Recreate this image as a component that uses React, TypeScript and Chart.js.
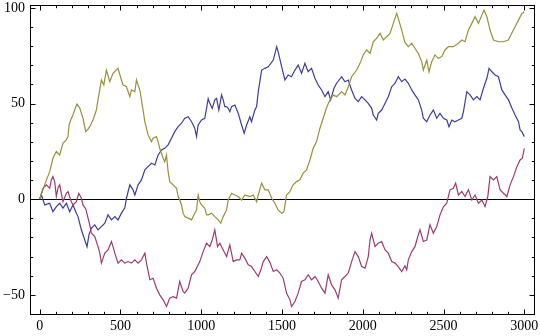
import React, { useEffect, useRef } from "react";
import { Chart, registerables } from "chart.js";

Chart.register(...registerables);

// Walk 1 (blue): [step, value]
const blueWalk: number[][] = [
  [0, 0], [11, 2.2], [31, -3.0], [62, -2.1], [82, -6.5], [103, -3.9], [124, -2.1], [144, -4.7], [165, -2.1], [186, -6.6],
  [206, -3.0], [227, -7.3], [237, -9.1], [258, -16.0], [279, -21.3], [293, -24.8], [305, -18.6], [320, -15.1], [341, -13.4], [361, -16.0],
  [382, -14.3], [403, -12.5], [423, -8.2], [444, -10.8], [465, -9.1], [485, -10.8], [506, -7.3], [527, -4.5], [537, 0.5], [558, 7.5],
  [578, 4.9], [589, 2.2], [609, 7.5], [630, 10.1], [651, 15.3], [671, 17.0], [692, 18.8], [713, 17.9], [733, 23.1], [754, 25.7],
  [774, 26.6], [795, 28.4], [816, 31.9], [836, 35.3], [857, 37.9], [878, 39.7], [898, 42.3], [919, 43.1], [940, 40.5], [960, 37.1],
  [971, 32.7], [981, 38.8], [1002, 41.4], [1022, 42.3], [1033, 47.5], [1043, 52.5], [1053, 50.1], [1068, 47.5], [1084, 51.9], [1095, 52.7],
  [1109, 46.6], [1126, 54.5], [1136, 51.9], [1146, 48.4], [1157, 48.4], [1167, 47.5], [1177, 45.7], [1188, 48.4], [1208, 49.2], [1229, 44.9],
  [1250, 38.8], [1266, 34.5], [1281, 38.8], [1301, 43.1], [1311, 40.5], [1332, 46.6], [1343, 48.4], [1353, 56.2], [1374, 67.5], [1394, 68.4],
  [1415, 69.2], [1446, 72.7], [1467, 79.7], [1476, 77.1], [1498, 69.2], [1518, 62.3], [1538, 64.9], [1559, 64.0], [1580, 67.5], [1600, 70.1],
  [1621, 65.8], [1642, 71.0], [1662, 66.6], [1683, 68.4], [1704, 63.2], [1724, 59.7], [1745, 57.1], [1766, 53.6], [1786, 56.2], [1801, 51.9],
  [1822, 58.0], [1838, 60.6], [1869, 64.0], [1890, 61.4], [1910, 62.3], [1931, 57.1], [1952, 52.7], [1972, 51.0], [1993, 53.6], [2014, 51.9],
  [2034, 50.1], [2055, 47.5], [2065, 44.0], [2086, 41.4], [2096, 44.9], [2117, 46.6], [2138, 50.1], [2158, 53.6], [2179, 58.8], [2200, 60.6],
  [2220, 64.0], [2241, 61.4], [2261, 62.8], [2282, 60.6], [2303, 57.1], [2323, 54.5], [2344, 51.9], [2365, 46.6], [2375, 42.3], [2396, 40.5],
  [2416, 44.0], [2437, 46.6], [2458, 42.3], [2478, 44.9], [2499, 42.3], [2520, 41.4], [2534, 37.9], [2551, 41.4], [2571, 40.5], [2592, 41.4],
  [2613, 42.3], [2623, 45.7], [2644, 56.2], [2664, 54.5], [2685, 51.9], [2706, 53.6], [2726, 51.9], [2747, 58.0], [2768, 63.2], [2782, 68.4],
  [2799, 66.6], [2819, 64.9], [2840, 64.0], [2861, 57.1], [2881, 54.5], [2902, 51.9], [2923, 47.7], [2943, 44.0], [2964, 40.5], [2974, 36.2],
  [2985, 35.3], [3000, 32.7],
];

// Walk 2 (magenta): [step, value]
const magentaWalk: number[][] = [
  [0, 0], [20, 5.7], [42, 7.5], [62, 5.7], [72, 10.1], [82, 11.8], [93, 9.2], [103, 1.4], [113, 5.7], [124, 7.5],
  [134, 3.1], [144, -1.3], [165, 3.1], [175, 4.0], [196, -1.3], [206, -3.0], [227, -1.3], [242, 3.1], [258, 0.5], [268, -3.0],
  [285, -5.1], [299, -9.8], [310, -13.4], [320, -17.8], [341, -19.5], [361, -24.8], [372, -28.2], [382, -33.4], [403, -28.2], [423, -26.5],
  [444, -22.1], [454, -24.8], [465, -28.2], [485, -33.4], [506, -31.7], [527, -33.4], [547, -32.6], [568, -33.4], [589, -31.7], [609, -33.4],
  [630, -31.7], [651, -28.2], [661, -33.4], [682, -42.1], [702, -41.3], [723, -46.5], [743, -50.0], [764, -52.6], [785, -56.1], [805, -51.7],
  [826, -50.9], [847, -51.7], [867, -43.0], [888, -48.3], [898, -49.1], [919, -46.5], [940, -39.5], [960, -37.8], [991, -32.6], [1012, -27.4],
  [1033, -23.0], [1053, -24.8], [1068, -21.3], [1084, -16.0], [1101, -24.8], [1115, -23.0], [1136, -26.5], [1157, -30.0], [1177, -23.9], [1198, -32.6],
  [1219, -31.7], [1239, -31.7], [1250, -28.2], [1270, -30.8], [1291, -34.3], [1311, -35.2], [1332, -37.8], [1353, -40.4], [1369, -36.9], [1384, -32.6],
  [1405, -30.0], [1425, -33.0], [1446, -37.8], [1467, -36.9], [1487, -38.6], [1507, -41.3], [1528, -49.1], [1549, -52.6], [1559, -56.1], [1580, -53.5],
  [1600, -49.1], [1621, -43.0], [1642, -42.1], [1662, -39.5], [1683, -42.1], [1704, -40.4], [1724, -43.0], [1745, -46.5], [1766, -49.1], [1786, -39.5],
  [1807, -44.8], [1828, -47.4], [1848, -51.7], [1869, -42.1], [1890, -40.4], [1910, -38.6], [1931, -32.6], [1952, -27.4], [1972, -30.0], [1993, -35.2],
  [2014, -36.0], [2034, -30.0], [2045, -21.3], [2055, -17.8], [2076, -24.8], [2096, -23.0], [2117, -22.1], [2138, -26.5], [2158, -28.2], [2179, -32.6],
  [2200, -33.4], [2220, -35.2], [2241, -37.8], [2261, -34.8], [2272, -36.9], [2282, -31.7], [2303, -27.4], [2323, -24.8], [2344, -18.6], [2354, -16.0],
  [2375, -22.1], [2396, -21.3], [2416, -13.4], [2437, -17.8], [2458, -14.3], [2478, -8.2], [2499, -4.0], [2520, -2.1], [2540, 4.9], [2561, 5.7],
  [2575, 8.4], [2592, 2.2], [2613, 4.0], [2633, 1.4], [2654, 4.9], [2675, -0.4], [2695, 2.2], [2716, -2.1], [2737, -0.4], [2757, -3.9],
  [2774, 1.4], [2788, 11.8], [2809, 10.1], [2830, 11.8], [2850, 4.9], [2871, 3.1], [2892, 1.4], [2912, 7.5], [2933, 11.8], [2954, 17.0],
  [2974, 20.5], [2988, 21.4], [3000, 26.6],
];

// Walk 3 (gold): [step, value]
const goldWalk: number[][] = [
  [0, 0], [20, 4.9], [42, 10.1], [62, 14.4], [82, 21.4], [103, 24.9], [124, 23.1], [144, 29.2], [165, 31.0], [175, 32.7],
  [182, 38.8], [192, 41.4], [206, 44.0], [220, 47.5], [231, 49.8], [248, 47.7], [268, 42.3], [285, 35.3], [296, 36.2], [310, 37.9],
  [330, 41.4], [351, 46.6], [361, 51.9], [382, 62.3], [397, 59.7], [413, 67.5], [434, 61.4], [454, 65.8], [485, 68.4], [500, 64.0],
  [516, 59.7], [537, 58.8], [558, 53.6], [568, 57.1], [589, 56.2], [599, 62.3], [609, 59.7], [620, 57.1], [630, 51.9], [640, 46.6],
  [651, 40.5], [671, 33.6], [692, 30.1], [702, 31.9], [723, 32.7], [733, 30.1], [743, 26.6], [764, 21.4], [774, 19.6], [785, 23.1],
  [795, 14.4], [805, 9.2], [826, 7.5], [847, 5.7], [857, 1.4], [867, -0.4], [878, -3.0], [888, -7.3], [898, -9.1], [919, -9.9],
  [940, -10.8], [960, -7.3], [971, -5.6], [981, 2.2], [991, -1.3], [1002, -3.0], [1022, -4.7], [1033, -8.2], [1043, -8.2], [1064, -7.3],
  [1084, -9.1], [1105, -10.8], [1121, -12.5], [1136, -9.1], [1157, -5.6], [1167, -0.4], [1188, 3.1], [1208, 2.2], [1229, 1.4], [1250, -0.4],
  [1270, 2.2], [1301, 1.4], [1322, 2.2], [1343, -1.3], [1353, 2.2], [1374, 8.4], [1394, 4.9], [1415, 4.9], [1436, 0.5], [1456, -2.1],
  [1476, -5.6], [1498, -7.3], [1512, -6.5], [1528, 2.2], [1549, 4.0], [1569, 7.5], [1590, 9.2], [1611, 10.1], [1631, 13.6], [1652, 15.3],
  [1673, 20.5], [1693, 26.6], [1714, 30.1], [1735, 37.1], [1755, 42.3], [1776, 47.9], [1797, 51.9], [1817, 54.5], [1838, 53.6], [1869, 56.2],
  [1890, 54.5], [1910, 58.8], [1931, 64.0], [1962, 67.5], [1983, 71.0], [2003, 75.4], [2024, 78.0], [2045, 76.2], [2065, 82.3], [2086, 84.1],
  [2107, 86.7], [2127, 83.2], [2148, 84.9], [2169, 86.7], [2189, 91.9], [2210, 97.1], [2220, 94.5], [2241, 88.4], [2261, 81.9], [2282, 79.7],
  [2303, 81.5], [2323, 78.9], [2344, 76.2], [2365, 71.9], [2375, 67.5], [2396, 72.7], [2410, 66.6], [2427, 71.9], [2447, 75.4], [2468, 73.6],
  [2489, 74.5], [2509, 78.0], [2530, 79.7], [2561, 79.7], [2592, 81.5], [2613, 83.2], [2633, 82.3], [2654, 88.4], [2675, 91.9], [2695, 95.4],
  [2716, 91.9], [2737, 96.2], [2751, 98.9], [2768, 95.4], [2788, 88.4], [2809, 83.2], [2840, 82.3], [2871, 82.3], [2901, 83.2], [2922, 86.7],
  [2943, 90.1], [2964, 93.6], [2985, 97.1], [3000, 98.0],
];

const xTickValues = [0, 500, 1000, 1500, 2000, 2500, 3000];
const yTickValues = [-50, 0, 50, 100];
const xMinorStep = 100;
const yMinorStep = 10;

const X_MIN = -60;
const X_MAX = 3060;
const Y_MIN = -60;
const Y_MAX = 101.5;

const FONT = { family: "'Liberation Serif', 'Times New Roman', serif", size: 14 };

const framePlugin = {
  id: "mmaFrame",
  beforeDatasetsDraw(chart: any) {
    const { ctx, chartArea, scales } = chart;
    const y0 = Math.round(scales.y.getPixelForValue(0)) + 0.5;
    ctx.save();
    ctx.strokeStyle = "#000";
    ctx.lineWidth = 1;
    ctx.beginPath();
    ctx.moveTo(chartArea.left, y0);
    ctx.lineTo(chartArea.right, y0);
    ctx.stroke();
    ctx.restore();
  },
  afterDraw(chart: any) {
    const { ctx, chartArea, scales } = chart;
    const L = Math.floor(chartArea.left) + 0.5;
    const R = Math.floor(chartArea.right) + 0.5;
    const T = Math.floor(chartArea.top) + 0.5;
    const B = Math.floor(chartArea.bottom) + 0.5;
    ctx.save();
    ctx.strokeStyle = "#000";
    ctx.lineWidth = 1;
    ctx.strokeRect(L, T, R - L, B - T);
    ctx.beginPath();
    const majorLen = 5;
    const minorLen = 2.7;
    for (let v = Math.ceil(X_MIN / xMinorStep) * xMinorStep; v <= X_MAX; v += xMinorStep) {
      if (v <= X_MIN || v >= X_MAX) continue;
      const px = Math.round(scales.x.getPixelForValue(v)) + 0.5;
      const len = xTickValues.includes(v) ? majorLen : minorLen;
      ctx.moveTo(px, B);
      ctx.lineTo(px, B - len);
      ctx.moveTo(px, T);
      ctx.lineTo(px, T + len);
    }
    for (let v = Math.ceil(Y_MIN / yMinorStep) * yMinorStep; v <= Y_MAX; v += yMinorStep) {
      if (v <= Y_MIN || v >= Y_MAX) continue;
      const py = Math.round(scales.y.getPixelForValue(v)) + 0.5;
      const len = yTickValues.includes(v) ? majorLen : minorLen;
      ctx.moveTo(L, py);
      ctx.lineTo(L + len, py);
      ctx.moveTo(R, py);
      ctx.lineTo(R - len, py);
    }
    ctx.stroke();
    ctx.restore();
  },
};

const toPoints = (walk: number[][]) => walk.map(([x, y]) => ({ x, y }));

export default function App() {
  const canvasRef = useRef<HTMLCanvasElement | null>(null);

  useEffect(() => {
    document.body.style.margin = "0";
    const canvas = canvasRef.current;
    if (!canvas) return;
    const chart = new Chart(canvas, {
      type: "line",
      data: {
        datasets: [
          {
            label: "walk 3",
            data: toPoints(goldWalk),
            borderColor: "#99903d",
            borderWidth: 1.2,
            pointRadius: 0,
            tension: 0,
            order: 1,
          },
          {
            label: "walk 2",
            data: toPoints(magentaWalk),
            borderColor: "#993d74",
            borderWidth: 1.2,
            pointRadius: 0,
            tension: 0,
            order: 2,
          },
          {
            label: "walk 1",
            data: toPoints(blueWalk),
            borderColor: "#3e3d99",
            borderWidth: 1.2,
            pointRadius: 0,
            tension: 0,
            order: 3,
          },
        ],
      },
      options: {
        responsive: false,
        animation: false,
        devicePixelRatio: 1,
        layout: { padding: { left: 0, right: 6, top: 5, bottom: 0 } },
        plugins: { legend: { display: false }, tooltip: { enabled: false } },
        scales: {
          x: {
            type: "linear",
            min: X_MIN,
            max: X_MAX,
            grid: { display: false, drawTicks: false },
            border: { display: false },
            ticks: {
              color: "#000",
              font: FONT,
              padding: 4,
              maxRotation: 0,
              autoSkip: false,
              callback: (v: any) => String(v),
            },
            afterBuildTicks: (s: any) => {
              s.ticks = xTickValues.map((v) => ({ value: v }));
            },
            afterFit: (s: any) => {
              s.height = 22;
              s.paddingLeft = 0;
              s.paddingRight = 0;
            },
          },
          y: {
            type: "linear",
            min: Y_MIN,
            max: Y_MAX,
            grid: { display: false, drawTicks: false },
            border: { display: false },
            ticks: {
              color: "#000",
              font: FONT,
              padding: 5,
              autoSkip: false,
              callback: (v: any) => (v < 0 ? "\u2212" + Math.abs(v) : String(v)),
            },
            afterBuildTicks: (s: any) => {
              s.ticks = yTickValues.map((v) => ({ value: v }));
            },
            afterFit: (s: any) => {
              s.width = 30;
              s.paddingTop = 0;
              s.paddingBottom = 0;
            },
          },
        },
      },
      plugins: [framePlugin],
    });
    return () => chart.destroy();
  }, []);

  return (
    <canvas
      ref={canvasRef}
      width={540}
      height={336}
      style={{ display: "block", width: 540, height: 336 }}
    />
  );
}
